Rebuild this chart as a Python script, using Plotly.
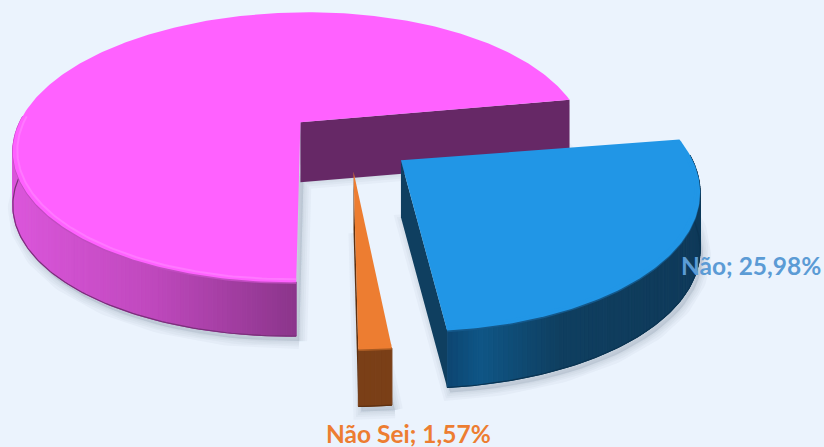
import math
import plotly.graph_objects as go

# ---- data ----
categories = ["Sim", "Não", "Não Sei"]
values = [72.45, 25.98, 1.57]
shown_labels = ["Não", "Não Sei"]

# ---- style / projection ----
W, H = 824, 447
BG = "#EBF3FD"
PX, PY, RX, RY, PERSP = 346, 140, 288, 137, 0.19
START = 10.2
EXPLODE = {"Sim": 0.21, "Não": 0.235, "Não Sei": 0.22}
ROTATE = {"Sim": 0, "Não": -1.3, "Não Sei": -0.5}
NUDGE_U = {"Sim": 0, "Não": 0, "Não Sei": 0.012}
SQUASH = {"Sim": 1, "Não": 0.96, "Não Sei": 0.965}
NARROW = {"Sim": 1, "Não": 0.985, "Não Sei": 0.92}
DEPTH = {"Sim": 54, "Não": 57, "Não Sei": 57}
CUT_DEPTH = {"Sim": 60, "Não": 57, "Não Sei": 57}
TOP = {"Sim": "#FF61FF", "Não": "#2196E6", "Não Sei": "#ED7D31"}
INNER = {"Sim": "#662866", "Não": "#0F3F60", "Não Sei": "#5E3010"}
RIM = {"Sim": "#FF78FF", "Não": "#2196E6", "Não Sei": "#ED7D31"}
SOFT = {"Sim": "#C24CC2", "Não": "#14588A", "Não Sei": "#A85A22"}
EDGE = {"Sim": "#7A307A", "Não": "#0B3452", "Não Sei": "#5E3010"}
WALL = {
    "Sim": [(0, "#DE58DE"), (150, "#C049BE"), (300, "#8A358A")],
    "Não": [(447, "#0D4672"), (480, "#0F5686"), (560, "#103F60"), (700, "#0F3A5A")],
    "Não Sei": [(355, "#7A3F17"), (395, "#7A3F17")],
}
LABEL_COLOR = {"Não": "#5B9BD5", "Não Sei": "#ED7D31"}
LABEL_POS = {"Não": (751, 265), "Não Sei": (408, 433)}


def project(u, v):
    d = 1 - PERSP * v
    return PX + RX * u / d, PY + RY * v / d


def hex_rgb(c):
    return tuple(int(c[i:i + 2], 16) for i in (1, 3, 5))


def ramp(stops, x):
    if x <= stops[0][0]:
        return stops[0][1]
    for (x0, c0), (x1, c1) in zip(stops, stops[1:]):
        if x <= x1:
            t = (x - x0) / (x1 - x0)
            a, b = hex_rgb(c0), hex_rgb(c1)
            return "rgb(%d,%d,%d)" % tuple(a[i] + (b[i] - a[i]) * t for i in range(3))
    return stops[-1][1]


def poly(xs, ys, fill, line=None, width=0):
    return go.Scatter(x=xs, y=ys, mode="lines", fill="toself", fillcolor=fill,
                      line=dict(color=line or fill, width=width),
                      hoverinfo="skip", showlegend=False)


def path(xs, ys, color, width):
    return go.Scatter(x=xs, y=ys, mode="lines", line=dict(color=color, width=width),
                      hoverinfo="skip", showlegend=False)


total = sum(values)
spans = {}
a = START
for name, val in zip(categories, values):
    sweep = val / total * 360
    if name == "Sim":
        spans[name] = (START + sweep, START)
    else:
        spans[name] = (a + ROTATE[name], a - sweep + ROTATE[name])
        a -= sweep

geo = {}
for name in categories:
    a0, a1 = spans[name]
    mid = math.radians((a0 + a1) / 2)
    cu = EXPLODE[name] * math.cos(mid) + NUDGE_U[name]
    cv = -EXPLODE[name] * math.sin(mid)
    n = max(4, int(abs(a0 - a1) * 1.2))
    angs = [a0 + (a1 - a0) * i / n for i in range(n + 1)]
    s, w = SQUASH[name], NARROW[name]

    def ring(r):
        return [project(cu + w * r * math.cos(math.radians(t)),
                        cv - s * r * math.sin(math.radians(t))) for t in angs]

    front = [i for i, t in enumerate(angs) if math.sin(math.radians(t)) < 0.05]
    geo[name] = dict(apex=project(cu, cv), rim=ring(1), soft=ring(0.997), inner=ring(0.985), front=front)

fig = go.Figure()

# soft shadows
for name in categories:
    g = geo[name]
    d = DEPTH[name]
    xs = [p[0] + 3 for p in g["rim"]] + [g["apex"][0] + 3]
    ys = [p[1] + d + 5 for p in g["rim"]] + [g["apex"][1] + d + 5]
    xs.append(xs[0]); ys.append(ys[0])
    for w in (16, 11, 7, 3):
        fig.add_trace(poly(xs, ys, "rgba(120,130,150,0.06)", "rgba(120,130,150,0.06)", w))

for name in categories:
    g = geo[name]
    ax, ay = g["apex"]
    rim = g["rim"]
    d = DEPTH[name]
    fr = g["front"]
    # outer wall, cut into strips so it can shade across the screen
    for i, j in zip(fr, fr[1:]):
        (x0, y0), (x1, y1) = rim[i], rim[j]
        col = ramp(WALL[name], (x0 + x1) / 2)
        fig.add_trace(poly([x0, x1, x1, x0, x0],
                           [y0, y1, y1 + d, y0 + d, y0], col, col, 1))
    # lower edge
    fig.add_trace(path([rim[i][0] for i in fr], [rim[i][1] + d for i in fr], EDGE[name], 1.2))
    # cut wall
    ex, ey = rim[-1]
    c = CUT_DEPTH[name]
    fig.add_trace(poly([ax, ex, ex, ax, ax], [ay, ey, ey + c, ay + c, ay], INNER[name]))
    # soft edge between wall and top
    fig.add_trace(path([g["soft"][i][0] for i in fr], [g["soft"][i][1] + 1 for i in fr], SOFT[name], 2.5))
    # top face
    xs = [ax] + [p[0] for p in rim] + [ax]
    ys = [ay] + [p[1] for p in rim] + [ay]
    fig.add_trace(poly(xs, ys, TOP[name]))
    # rim highlight
    fig.add_trace(path([g["inner"][i][0] for i in fr], [g["inner"][i][1] for i in fr], RIM[name], 2))

for name in shown_labels:
    v = values[categories.index(name)]
    x, y = LABEL_POS[name]
    fig.add_annotation(x=x, y=y, xref="x", yref="y", showarrow=False,
                       text="<b>%s; %s%%</b>" % (name, ("%.2f" % v).replace(".", ",")),
                       font=dict(family="Lato", size=24.5, color=LABEL_COLOR[name]))

fig.update_layout(
    width=W, height=H, margin=dict(l=0, r=0, t=0, b=0),
    paper_bgcolor=BG, plot_bgcolor=BG, showlegend=False,
    xaxis=dict(range=[0, W], visible=False, fixedrange=True),
    yaxis=dict(range=[H, 0], visible=False, fixedrange=True),
)
fig.write_html("out.html", config={"displayModeBar": False},
               post_script="document.body.style.margin='0';document.body.style.overflow='hidden';document.body.style.background='%s';" % BG)
